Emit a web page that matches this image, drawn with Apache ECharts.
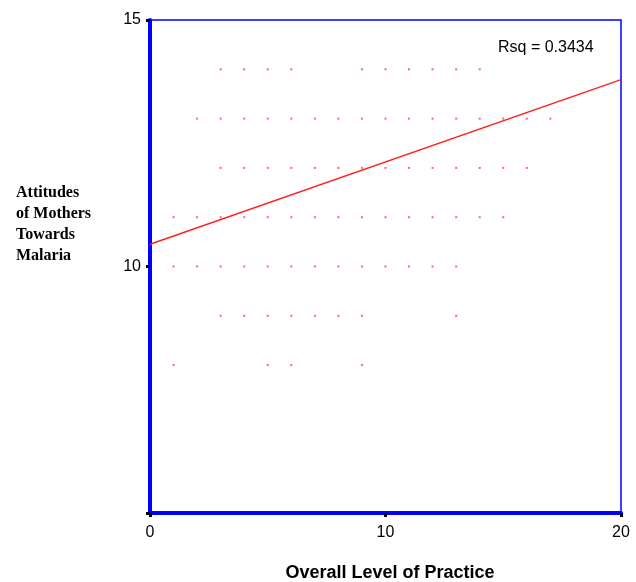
<!DOCTYPE html>
<html>
<head>
<meta charset="utf-8">
<script src="https://cdn.jsdelivr.net/npm/echarts@6/dist/echarts.min.js"></script>
<style>html,body{margin:0;padding:0;background:#fff;}#c{width:636px;height:582px;}</style>
</head>
<body>
<div id="c"></div>
<script>
// Observed (practice, attitude) cells, one array of practice values per attitude level
const attitudeLevels = [14, 13, 12, 11, 10, 9, 8];
const practiceAt14 = [3, 4, 5, 6, 9, 10, 11, 12, 13, 14];
const practiceAt13 = [2, 3, 4, 5, 6, 7, 8, 9, 10, 11, 12, 13, 14, 15, 16, 17];
const practiceAt12 = [3, 4, 5, 6, 7, 8, 9, 10, 11, 12, 13, 14, 15, 16];
const practiceAt11 = [1, 2, 3, 4, 5, 6, 7, 8, 9, 10, 11, 12, 13, 14, 15];
const practiceAt10 = [1, 2, 3, 4, 5, 6, 7, 8, 9, 10, 11, 12, 13];
const practiceAt9 = [3, 4, 5, 6, 7, 8, 9, 13];
const practiceAt8 = [1, 5, 6, 9];
// Fitted line endpoints
const fitX = [0, 20];
const fitY = [10.45, 13.79];
const rsqLabel = 'Rsq = 0.3434';
const xTicks = [0, 10, 20];
const yTicks = [10, 15];

const rows = [practiceAt14, practiceAt13, practiceAt12, practiceAt11, practiceAt10, practiceAt9, practiceAt8];
const points = [];
rows.forEach((xs, i) => xs.forEach(x => points.push([x, attitudeLevels[i]])));

const chart = echarts.init(document.getElementById('c'), null, {renderer: 'canvas'});
const tickFont = {color: '#000', fontFamily: 'Liberation Sans, Arial, sans-serif', fontSize: 16};
chart.setOption({
  animation: false,
  backgroundColor: '#fff',
  grid: {left: 150, right: 15, top: 20, bottom: 69, show: true, borderColor: '#0000ff', borderWidth: 1.5, backgroundColor: 'transparent'},
  xAxis: {
    type: 'value', min: 0, max: 20, interval: 10,
    axisLine: {show: true, onZero: false, lineStyle: {color: '#0000ff', width: 4}},
    axisTick: {show: true, length: 4, lineStyle: {color: '#000', width: 3}},
    axisLabel: Object.assign({margin: 12, formatter: v => xTicks.includes(v) ? String(v) : ''}, tickFont),
    splitLine: {show: false}
  },
  yAxis: {
    type: 'value', min: 5, max: 15, interval: 5,
    axisLine: {show: true, onZero: false, lineStyle: {color: '#0000ff', width: 4}},
    axisTick: {show: true, length: 4, lineStyle: {color: '#000', width: 3}},
    axisLabel: Object.assign({margin: 9, formatter: v => yTicks.includes(v) ? String(v) : ''}, tickFont),
    splitLine: {show: false}
  },
  graphic: [
    {type: 'text', left: 16, top: 182, style: {text: 'Attitudes\nof Mothers\nTowards\nMalaria', fill: '#000', font: 'bold 16px "Liberation Serif", "Times New Roman", serif', lineHeight: 21}},
    {type: 'text', x: 390, y: 573, style: {text: 'Overall Level of Practice', fill: '#000', font: 'bold 18px "Liberation Sans", Arial, sans-serif', align: 'center', verticalAlign: 'middle'}},
    {type: 'text', left: 498, top: 40, style: {text: rsqLabel, fill: '#000', font: '16px "Liberation Sans", Arial, sans-serif'}}
  ],
  series: [
    {type: 'scatter', data: points, symbol: 'rect', symbolSize: 2, itemStyle: {color: '#ff4040'}, z: 3},
    {type: 'line', data: fitX.map((x, i) => [x, fitY[i]]), showSymbol: false, symbol: 'none', lineStyle: {color: '#ff2020', width: 1.5}, z: 4}
  ]
});
</script>
</body>
</html>
